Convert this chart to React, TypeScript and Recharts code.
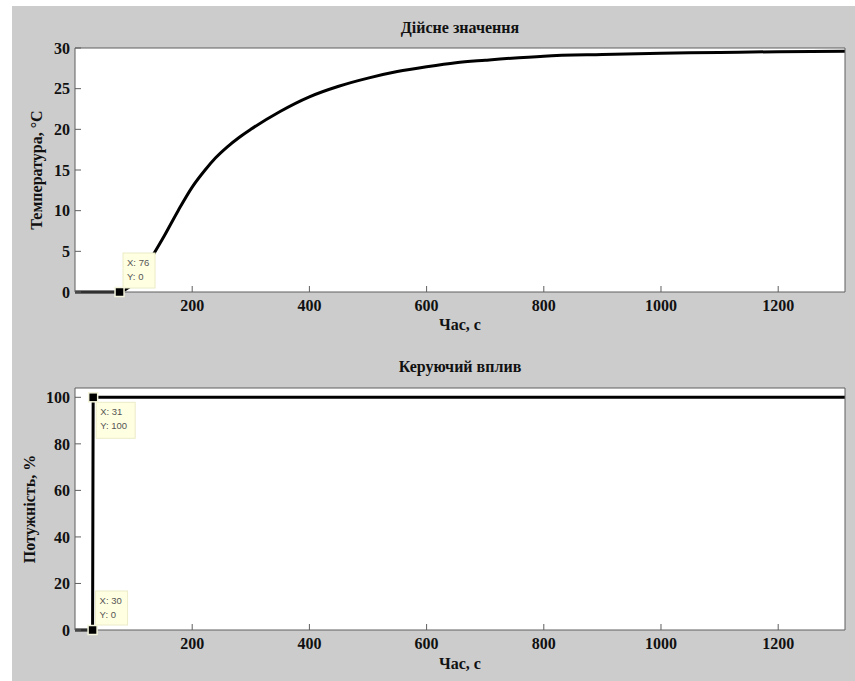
import React from "react";
import {
  LineChart,
  Line,
  XAxis,
  YAxis,
  ReferenceDot,
  Label,
} from "recharts";

// time axis, seconds
const timeTemp = [0, 30, 76, 90, 100, 110, 120, 137, 150, 176, 200, 222, 240, 260, 280, 300, 350, 400, 450, 500, 550, 600, 650, 700, 800, 900, 1000, 1100, 1200, 1314];
// measured temperature, °C
const temperature = [0, 0, 0, 0.5, 1.0, 1.9, 3.0, 5.0, 6.6, 10.0, 12.9, 15.0, 16.5, 17.85, 19.0, 20.0, 22.2, 24.0, 25.3, 26.3, 27.1, 27.7, 28.2, 28.5, 29.0, 29.2, 29.35, 29.45, 29.55, 29.6];

const timePower = [0, 30, 31, 1314];
const power = [0, 0, 100, 100];

const timeTicks = [200, 400, 600, 800, 1000, 1200];
const tempTicks = [0, 5, 10, 15, 20, 25, 30];
const powerTicks = [0, 20, 40, 60, 80, 100];

const tempTips = [{ x: 76, y: 0, dx: 3.5, dy: -39, w: 32, h: 35 }];
const powerTips = [
  { x: 31, y: 100, dx: 3, dy: 5, w: 39, h: 36 },
  { x: 30, y: 0, dx: 3, dy: -39, w: 32, h: 34 },
];

const tempData = timeTemp.map((t, i) => ({ t, v: temperature[i] }));
const powerData = timePower.map((t, i) => ({ t, v: power[i] }));

const serif = "'Liberation Serif', 'Times New Roman', serif";
const axisColor = "#5f5f5f";
const tickFont = { fill: "#111", fontFamily: serif, fontWeight: 700, fontSize: 16 };

const tipShape = (tip: { x: number; y: number; dx: number; dy: number; w: number; h: number }) =>
  (props: any) => {
    const { cx, cy } = props;
    return (
      <g>
        <rect x={cx + tip.dx} y={cy + tip.dy} width={tip.w} height={tip.h} fill="#ffffe1" stroke="#ecebc8" />
        <text x={cx + tip.dx + 4} y={cy + tip.dy + 13} fontSize={9.5} fontFamily="Arial, sans-serif" fill="#555">
          X: {tip.x}
        </text>
        <text x={cx + tip.dx + 4} y={cy + tip.dy + 27} fontSize={9.5} fontFamily="Arial, sans-serif" fill="#555">
          Y: {tip.y}
        </text>
        <rect x={cx - 4.5} y={cy - 4.5} width={9} height={9} fill="#000" stroke="#f4f4dc" strokeWidth={1.5} />
      </g>
    );
  };

const yLabel = (text: string, xc: number) => (props: any) => {
  const vb = props.viewBox;
  const cy = vb.y + vb.height / 2;
  return (
    <text
      x={xc}
      y={cy}
      transform={`rotate(-90 ${xc} ${cy})`}
      textAnchor="middle"
      dominantBaseline="central"
      fontFamily={serif}
      fontWeight={700}
      fontSize={16}
      fill="#111"
    >
      {text}
    </text>
  );
};

const Title: React.FC<{ top: number; text: string }> = ({ top, text }) => (
  <div
    style={{
      position: "absolute",
      left: 75,
      width: 770,
      top,
      textAlign: "center",
      fontFamily: serif,
      fontWeight: 700,
      fontSize: 16,
      color: "#111",
      lineHeight: "20px",
    }}
  >
    {text}
  </div>
);

const Panel: React.FC<{
  top: number;
  height: number;
  data: { t: number; v: number }[];
  curve: "monotone" | "linear";
  yDomain: [number, number];
  yTicks: number[];
  yName: string;
  yLabelX: number;
  tips: { x: number; y: number; dx: number; dy: number; w: number; h: number }[];
  xAxisHeight: number;
  xLabelOffset: number;
}> = ({ top, height, data, curve, yDomain, yTicks, yName, yLabelX, tips, xAxisHeight, xLabelOffset }) => (
  <div style={{ position: "absolute", left: 0, top }}>
    {/* white axes background behind the svg */}
    <div
      style={{
        position: "absolute",
        left: 75,
        top: 48,
        width: 770,
        height: height - 48 - xAxisHeight,
        background: "#fff",
      }}
    />
    <LineChart
      width={855}
      height={height}
      data={data}
      margin={{ top: 47, right: 9, bottom: 0, left: 0 }}
      style={{ position: "relative" }}
    >
      <XAxis
        xAxisId="b"
        dataKey="t"
        type="number"
        domain={[0, 1314]}
        ticks={timeTicks}
        height={xAxisHeight}
        tickSize={-6}
        tickMargin={14}
        stroke={axisColor}
        tick={tickFont}
        interval={0}
      >
        <Label
          value="Час, с"
          position="insideBottom"
          offset={xLabelOffset}
          style={{ fontFamily: serif, fontWeight: 700, fontSize: 16, fill: "#111" }}
        />
      </XAxis>
      <XAxis
        xAxisId="top"
        orientation="top"
        dataKey="t"
        type="number"
        domain={[0, 1314]}
        ticks={timeTicks}
        height={1}
        tickSize={-6}
        tick={false}
        stroke={axisColor}
      />
      <YAxis
        yAxisId="l"
        type="number"
        domain={yDomain}
        ticks={yTicks}
        width={75}
        tickSize={-6}
        tickMargin={11}
        stroke={axisColor}
        tick={tickFont}
        interval={0}
      >
        <Label content={yLabel(yName, yLabelX)} />
      </YAxis>
      <YAxis
        yAxisId="r"
        orientation="right"
        type="number"
        domain={yDomain}
        ticks={yTicks}
        width={1}
        tickSize={-6}
        tick={false}
        stroke={axisColor}
      />
      <Line
        xAxisId="b"
        yAxisId="l"
        type={curve}
        dataKey="v"
        stroke="#000"
        strokeWidth={3}
        dot={false}
        isAnimationActive={false}
      />
      {tips.map((tip, i) => (
        <ReferenceDot
          key={i}
          xAxisId="b"
          yAxisId="l"
          x={tip.x}
          y={tip.y}
          r={4}
          shape={tipShape(tip)}
          ifOverflow="visible"
        />
      ))}
    </LineChart>
  </div>
);

export default function App() {
  return (
    <div style={{ position: "absolute", left: 0, top: 0, width: 855, height: 681, background: "#fff", overflow: "hidden" }}>
      <div style={{ position: "absolute", left: 12, top: 6, width: 843, height: 675, background: "#cccccc" }} />
      <Title top={18} text="Дійсне значення" />
      <Title top={357} text="Керуючий вплив" />
      <Panel
        top={0}
        height={340}
        data={tempData}
        curve="monotone"
        yDomain={[0, 30]}
        yTicks={tempTicks}
        yName="Температура, °C"
        yLabelX={36}
        tips={tempTips}
        xAxisHeight={48}
        xLabelOffset={10}
      />
      <Panel
        top={340}
        height={341}
        data={powerData}
        curve="linear"
        yDomain={[0, 104]}
        yTicks={powerTicks}
        yName="Потужність, %"
        yLabelX={29}
        tips={powerTips}
        xAxisHeight={51}
        xLabelOffset={12}
      />
    </div>
  );
}
